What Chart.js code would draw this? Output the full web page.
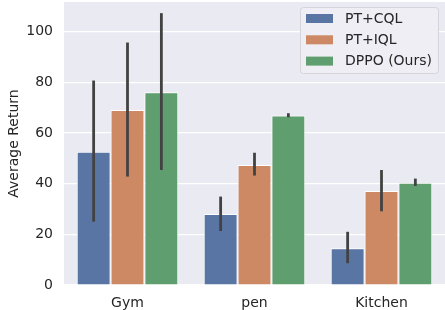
<!DOCTYPE html>
<html>
<head>
<meta charset="utf-8">
<script src="https://cdn.jsdelivr.net/npm/chart.js@4"></script>
<style>
  html, body { margin: 0; padding: 0; background: #fff; }
  #wrap { width: 445px; height: 310px; }
</style>
</head>
<body>
<div id="wrap"><canvas id="myChart" width="445" height="310"></canvas></div>
<script>
var categories = ["Gym", "pen", "Kitchen"];
var seriesNames = ["PT+CQL", "PT+IQL", "DPPO (Ours)"];
var cqlValues = [52.6, 28.0, 14.5];
var iqlValues = [69.1, 47.4, 37.1];
var dppoValues = [76.1, 66.9, 40.4];
// error bar ends [low, high]
var cqlErr = [[25.0, 80.7], [21.3, 34.9], [8.6, 21.0]];
var iqlErr = [[42.8, 95.7], [43.2, 52.2], [29.1, 45.4]];
var dppoErr = [[45.4, 107.3], [66.2, 67.8], [39.1, 42.0]];
var yTicks = [0, 20, 40, 60, 80, 100];

var barColors = ["#5975a4", "#cc8963", "#5f9e6e"];
var textColor = "#262626";
var fontFamily = "'DejaVu Sans', sans-serif";

var bgPlugin = {
    id: 'bg',
    beforeDraw: function(chart) {
        var a = chart.chartArea, ctx = chart.ctx;
        ctx.save();
        ctx.fillStyle = '#eaeaf2';
        ctx.fillRect(a.left, a.top, a.right - a.left, a.bottom - a.top);
        ctx.restore();
    }
};

var errPlugin = {
    id: 'errbars',
    afterDatasetsDraw: function(chart) {
        var ctx = chart.ctx, y = chart.scales.y;
        ctx.save();
        ctx.strokeStyle = '#424242';
        ctx.lineWidth = 2.8;
        ctx.lineCap = 'butt';
        chart.data.datasets.forEach(function(ds, di) {
            var meta = chart.getDatasetMeta(di);
            meta.data.forEach(function(bar, i) {
                var e = ds.err[i];
                ctx.beginPath();
                ctx.moveTo(bar.x, y.getPixelForValue(e[0]));
                ctx.lineTo(bar.x, y.getPixelForValue(e[1]));
                ctx.stroke();
            });
        });
        ctx.restore();
    }
};

var legendPlugin = {
    id: 'boxlegend',
    afterDraw: function(chart) {
        var ctx = chart.ctx;
        var x0 = 300.5, y0 = 7.5, w = 138, h = 66, r = 3;
        ctx.save();
        ctx.fillStyle = '#eeeef4';
        ctx.strokeStyle = '#d4d4da';
        ctx.lineWidth = 1;
        ctx.beginPath();
        ctx.roundRect(x0, y0, w, h, r);
        ctx.fill();
        ctx.stroke();
        ctx.font = '14px ' + fontFamily;
        ctx.textBaseline = 'middle';
        chart.data.datasets.forEach(function(ds, i) {
            var cy = 18.5 + i * 21.3;
            ctx.fillStyle = ds.backgroundColor;
            ctx.fillRect(306, cy - 4.5, 27, 9);
            ctx.fillStyle = textColor;
            ctx.fillText(ds.label, 345, cy + 0.5);
        });
        ctx.restore();
    }
};

var errs = [cqlErr, iqlErr, dppoErr];
var vals = [cqlValues, iqlValues, dppoValues];

var ctx = document.getElementById('myChart').getContext('2d');
var myChart = new Chart(ctx, {
    type: 'bar',
    data: {
        labels: categories,
        datasets: seriesNames.map(function(name, i) {
            return {
                label: name,
                data: vals[i],
                err: errs[i],
                backgroundColor: barColors[i],
                borderColor: '#ffffff',
                borderWidth: 1,
                categoryPercentage: 0.8,
                barPercentage: 1.0
            };
        })
    },
    options: {
        responsive: false,
        animation: false,
        devicePixelRatio: 1,
        layout: { padding: { top: 2, right: 0, left: 0, bottom: 0 } },
        plugins: {
            legend: { display: false },
            tooltip: { enabled: false }
        },
        scales: {
            x: {
                grid: { display: false, drawTicks: false },
                border: { display: false },
                ticks: {
                    color: textColor,
                    font: { family: fontFamily, size: 14 },
                    padding: 10
                },
                afterFit: function(s) {
                    s.height = 25;
                    s.paddingLeft = 0; s.paddingRight = 0;
                }
            },
            y: {
                min: 0,
                max: 111.7,
                afterBuildTicks: function(s) {
                    s.ticks = yTicks.map(function(v) { return { value: v }; });
                },
                grid: { color: '#ffffff', lineWidth: 1.2, drawTicks: false },
                border: { display: false },
                ticks: {
                    color: textColor,
                    font: { family: fontFamily, size: 14 },
                    padding: 11
                },
                title: {
                    display: true,
                    text: 'Average Return',
                    color: textColor,
                    font: { family: fontFamily, size: 14 },
                    padding: { top: 6, bottom: 0 }
                },
                afterFit: function(s) {
                    s.width = 64;
                    s.paddingTop = 0; s.paddingBottom = 0;
                }
            }
        }
    },
    plugins: [bgPlugin, errPlugin, legendPlugin]
});
</script>
</body>
</html>
